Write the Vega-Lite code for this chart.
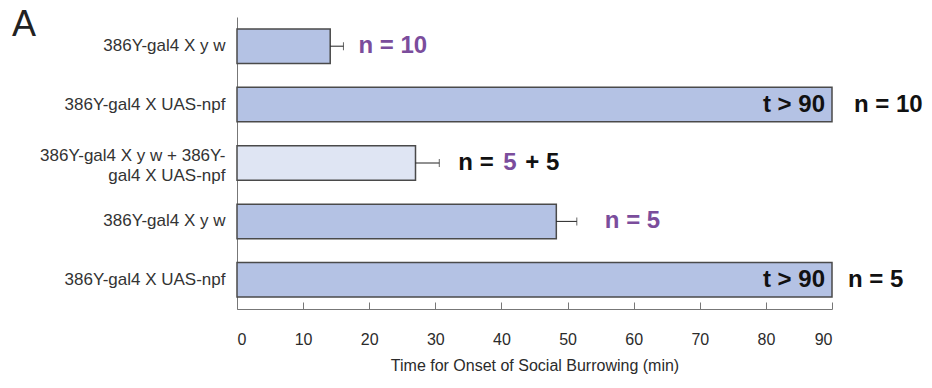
{
  "$schema": "https://vega.github.io/schema/vega-lite/v6.json",
  "width": 595,
  "height": 292,
  "autosize": "none",
  "padding": {"left": 237, "top": 17, "right": 100, "bottom": 79},
  "background": "white",
  "config": {"view": {"stroke": null}, "font": "Liberation Sans"},
  "title": {"text": "A", "anchor": "start", "frame": "group", "dx": -225, "offset": -55, "fontSize": 36, "fontWeight": "normal", "baseline": "alphabetic", "color": "#222222", "font": "Liberation Sans"},
  "data": {"values": [
    {"id": "1|386Y-gal4 X y w", "mean": 14.1, "hi": 16.1, "kind": "single"},
    {"id": "2|386Y-gal4 X UAS-npf", "mean": 90, "hi": null, "kind": "single"},
    {"id": "3|386Y-gal4 X y w + 386Y-|gal4 X UAS-npf", "mean": 27.0, "hi": 30.6, "kind": "mixed"},
    {"id": "4|386Y-gal4 X y w", "mean": 48.3, "hi": 51.4, "kind": "single"},
    {"id": "5|386Y-gal4 X UAS-npf", "mean": 90, "hi": null, "kind": "single"}
  ]},
  "encoding": {
    "y": {
      "field": "id", "type": "nominal", "sort": null,
      "scale": {"paddingInner": 0.41, "paddingOuter": 0.205},
      "axis": {"title": null, "ticks": false, "labelPadding": 12, "labelExpr": "slice(split(datum.label, '|'), 1)", "labelFontSize": 17, "labelColor": "#333333", "labelLineHeight": 20, "labelLimit": 300, "domainColor": "#777777", "domainWidth": 1,
        "labelOffset": {"condition": {"test": "indexof(datum.value, '3|') == 0", "value": -7}, "value": 0}}
    }
  },
  "layer": [
    {
      "mark": {"type": "bar", "stroke": "#4a4a4a", "strokeWidth": 1.5},
      "encoding": {
        "x": {"field": "mean", "type": "quantitative", "title": "Time for Onset of Social Burrowing (min)",
          "scale": {"domain": [0, 90], "nice": false},
          "axis": {"values": [0, 10, 20, 30, 40, 50, 60, 70, 80, 90], "grid": false, "tickSize": -7, "tickColor": "#777777", "domainColor": "#777777", "labelPadding": 29, "labelFontSize": 16, "labelColor": "#2b2b2b", "titleFontSize": 16, "titleFontWeight": "normal", "titleColor": "#2b2b2b", "titlePadding": 10}},
        "fill": {"field": "kind", "type": "nominal", "scale": {"domain": ["single", "mixed"], "range": ["#b4c2e4", "#dfe5f3"]}, "legend": null}
      }
    },
    {
      "transform": [{"filter": "isValid(datum.hi)"}],
      "mark": {"type": "rule", "color": "#222222", "strokeWidth": 1},
      "encoding": {
        "x": {"field": "mean", "type": "quantitative", "title": "Time for Onset of Social Burrowing (min)"},
        "x2": {"field": "hi"}
      }
    },
    {
      "transform": [{"filter": "isValid(datum.hi)"}],
      "mark": {"type": "tick", "color": "#222222", "thickness": 1, "size": 8},
      "encoding": {
        "x": {"field": "hi", "type": "quantitative", "title": "Time for Onset of Social Burrowing (min)"}
      }
    },
    {
      "transform": [{"filter": "datum.mean >= 90"}],
      "mark": {"type": "text", "text": "t > 90", "align": "right", "baseline": "middle", "dx": -7, "fontSize": 24, "fontWeight": "bold", "color": "#111111"},
      "encoding": {
        "x": {"field": "mean", "type": "quantitative", "title": "Time for Onset of Social Burrowing (min)"}
      }
    },
    {
      "transform": [{"filter": "datum.id == '2|386Y-gal4 X UAS-npf'"}],
      "mark": {"type": "text", "text": "n = 10", "align": "left", "baseline": "middle", "dx": 22, "fontSize": 24, "fontWeight": "bold", "color": "#111111"},
      "encoding": {
        "x": {"field": "mean", "type": "quantitative", "title": "Time for Onset of Social Burrowing (min)"}
      }
    },
    {
      "transform": [{"filter": "datum.id == '5|386Y-gal4 X UAS-npf'"}],
      "mark": {"type": "text", "text": "n = 5", "align": "left", "baseline": "middle", "dx": 16, "fontSize": 24, "fontWeight": "bold", "color": "#111111"},
      "encoding": {
        "x": {"field": "mean", "type": "quantitative", "title": "Time for Onset of Social Burrowing (min)"}
      }
    },
    {
      "transform": [{"filter": "datum.id == '1|386Y-gal4 X y w'"}],
      "mark": {"type": "text", "text": "n = 10", "align": "left", "baseline": "middle", "dx": 15, "fontSize": 24, "fontWeight": "bold", "color": "#7b4d9c"},
      "encoding": {
        "x": {"field": "hi", "type": "quantitative", "title": "Time for Onset of Social Burrowing (min)"}
      }
    },
    {
      "transform": [{"filter": "datum.id == '4|386Y-gal4 X y w'"}],
      "mark": {"type": "text", "text": "n = 5", "align": "left", "baseline": "middle", "dx": 28, "fontSize": 24, "fontWeight": "bold", "color": "#7b4d9c"},
      "encoding": {
        "x": {"field": "hi", "type": "quantitative", "title": "Time for Onset of Social Burrowing (min)"}
      }
    },
    {
      "transform": [{"filter": "datum.kind == 'mixed'"}],
      "mark": {"type": "text", "text": "n =", "align": "left", "baseline": "middle", "dx": 19, "fontSize": 24, "fontWeight": "bold", "color": "#111111"},
      "encoding": {
        "x": {"field": "hi", "type": "quantitative", "title": "Time for Onset of Social Burrowing (min)"}
      }
    },
    {
      "transform": [{"filter": "datum.kind == 'mixed'"}],
      "mark": {"type": "text", "text": "5", "align": "left", "baseline": "middle", "dx": 64, "fontSize": 24, "fontWeight": "bold", "color": "#7b4d9c"},
      "encoding": {
        "x": {"field": "hi", "type": "quantitative", "title": "Time for Onset of Social Burrowing (min)"}
      }
    },
    {
      "transform": [{"filter": "datum.kind == 'mixed'"}],
      "mark": {"type": "text", "text": "+ 5", "align": "left", "baseline": "middle", "dx": 86, "fontSize": 24, "fontWeight": "bold", "color": "#111111"},
      "encoding": {
        "x": {"field": "hi", "type": "quantitative", "title": "Time for Onset of Social Burrowing (min)"}
      }
    }
  ]
}
